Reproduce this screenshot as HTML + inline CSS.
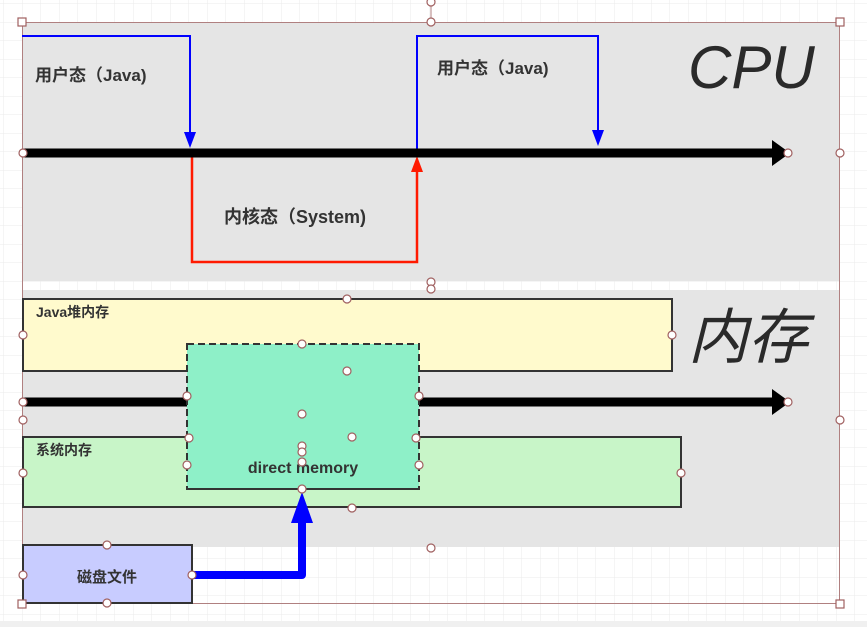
<!DOCTYPE html>
<html><head><meta charset="utf-8"><style>
html,body{margin:0;padding:0;width:867px;height:627px;overflow:hidden;background:#fff}
svg{display:block}
text{font-family:"Liberation Sans","Noto Sans CJK SC",sans-serif}
</style></head><body>
<svg width="867" height="627" viewBox="0 0 867 627" xmlns="http://www.w3.org/2000/svg">
<defs>
<pattern id="g" width="18.5" height="18.5" patternUnits="userSpaceOnUse" x="4" y="4">
<path d="M18.5 0V18.5M0 18.5H18.5" stroke="#ebebeb" stroke-width="1" fill="none"/>
</pattern>
</defs>
<rect width="867" height="627" fill="url(#g)"/>
<rect x="0" y="621" width="867" height="6" fill="#f0f0f0"/>
<rect x="22" y="22" width="818" height="259" fill="#e5e5e5"/>
<rect x="22" y="290" width="818" height="257" fill="#e5e5e5"/>
<rect x="22.5" y="22.5" width="817" height="581" fill="none" stroke="#b08080" stroke-width="1"/>
<line x1="431" y1="2" x2="431" y2="22" stroke="#b08080"/>
<polyline points="22,36 190,36 190,140" fill="none" stroke="#0000ff" stroke-width="2"/>
<polygon points="184,132 196,132 190,148" fill="#0000ff"/>
<polyline points="417,152 417,36 598,36 598,134" fill="none" stroke="#0000ff" stroke-width="2"/>
<polygon points="592,130 604,130 598,146" fill="#0000ff"/>
<polyline points="192,156 192,262 417,262 417,165" fill="none" stroke="#ff1a00" stroke-width="2.5"/>
<polygon points="411,172 423,172 417,156" fill="#ff1a00"/>
<line x1="22" y1="153" x2="775" y2="153" stroke="#000" stroke-width="9"/>
<polygon points="772,140 790,153 772,166" fill="#000"/>
<text x="35" y="81" font-size="17" font-weight="bold" fill="#333">用户态（Java)</text>
<text x="437" y="74" font-size="17" font-weight="bold" fill="#333">用户态（Java)</text>
<text x="224" y="223" font-size="18" font-weight="bold" fill="#333">内核态（System)</text>
<text x="688" y="88" font-size="60" font-style="italic" fill="#2a2a2a">CPU</text>
<text x="688" y="358" font-size="60" font-style="italic" fill="#2a2a2a">内存</text>
<rect x="23" y="299" width="649" height="72" fill="#fffacd" stroke="#333" stroke-width="2"/>
<text x="36" y="317" font-size="14" font-weight="bold" fill="#333">Java堆内存</text>
<line x1="22" y1="402" x2="775" y2="402" stroke="#000" stroke-width="9"/>
<polygon points="772,389 790,402 772,415" fill="#000"/>
<rect x="23" y="437" width="658" height="70" fill="#c8f5c8" stroke="#333" stroke-width="2"/>
<text x="36" y="455" font-size="14" font-weight="bold" fill="#333">系统内存</text>
<rect x="187" y="344" width="232" height="145" fill="#8ef0c8" stroke="#333" stroke-width="2" stroke-dasharray="7,4"/>
<line x1="187" y1="489" x2="419" y2="489" stroke="#333" stroke-width="2"/>
<text x="303" y="473" font-size="16" font-weight="bold" fill="#333" text-anchor="middle">direct memory</text>
<rect x="23" y="545" width="169" height="58" fill="#c8ccff" stroke="#333" stroke-width="2"/>
<text x="107" y="582" font-size="15" font-weight="bold" fill="#333" text-anchor="middle">磁盘文件</text>
<polyline points="192,575 302,575 302,515" fill="none" stroke="#0000ff" stroke-width="8" stroke-linejoin="round"/>
<polygon points="291,523 313,523 302,492" fill="#0000ff"/>
<g fill="#fff" stroke="#a06060" stroke-width="1.2">
<rect x="18" y="18" width="8" height="8"/><rect x="836" y="18" width="8" height="8"/>
<rect x="18" y="600" width="8" height="8"/><rect x="836" y="600" width="8" height="8"/>
<circle cx="431" cy="2" r="4"/><circle cx="431" cy="22" r="4"/>
<circle cx="23" cy="153" r="4"/><circle cx="788" cy="153" r="4"/><circle cx="840" cy="153" r="4"/>
<circle cx="431" cy="282" r="4"/><circle cx="431" cy="289" r="4"/>
<circle cx="347" cy="299" r="4"/><circle cx="23" cy="335" r="4"/><circle cx="672" cy="335" r="4"/>
<circle cx="23" cy="402" r="4"/><circle cx="23" cy="420" r="4"/><circle cx="788" cy="402" r="4"/><circle cx="840" cy="420" r="4"/>
<circle cx="302" cy="344" r="4"/><circle cx="347" cy="371" r="4"/><circle cx="187" cy="396" r="4"/><circle cx="419" cy="396" r="4"/>
<circle cx="302" cy="414" r="4"/><circle cx="189" cy="438" r="4"/><circle cx="352" cy="437" r="4"/><circle cx="416" cy="438" r="4"/>
<circle cx="302" cy="446" r="4"/><circle cx="302" cy="452" r="4"/><circle cx="302" cy="462" r="4"/>
<circle cx="23" cy="473" r="4"/><circle cx="187" cy="465" r="4"/><circle cx="419" cy="465" r="4"/><circle cx="681" cy="473" r="4"/>
<circle cx="302" cy="489" r="4"/><circle cx="352" cy="508" r="4"/><circle cx="431" cy="548" r="4"/>
<circle cx="107" cy="545" r="4"/><circle cx="23" cy="575" r="4"/><circle cx="192" cy="575" r="4"/><circle cx="107" cy="603" r="4"/>
</g>
</svg>
</body></html>
